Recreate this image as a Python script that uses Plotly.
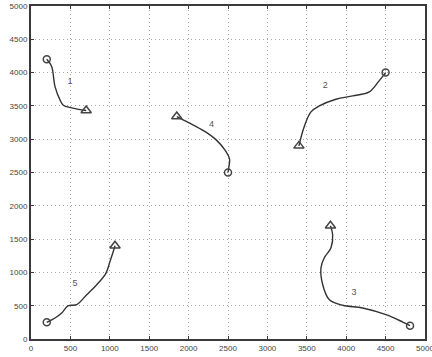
import plotly.graph_objects as go

# Trajectory data (x, y)
path1_x = [200, 262, 305, 368, 410, 516, 700]
path1_y = [4200, 4090, 3790, 3590, 3510, 3470, 3430]
path2_x = [3400, 3468, 3553, 3659, 3870, 4082, 4293, 4420, 4500]
path2_y = [2900, 3190, 3410, 3500, 3600, 3650, 3710, 3880, 4000]
path3_x = [3800, 3828, 3807, 3722, 3680, 3702, 3786, 3956, 4209, 4505, 4717, 4810]
path3_y = [1700, 1570, 1370, 1220, 1070, 815, 590, 506, 466, 365, 255, 200]
path4_x = [1850, 2000, 2200, 2350, 2460, 2520, 2512, 2500]
path4_y = [3340, 3250, 3120, 2990, 2840, 2700, 2590, 2500]
path5_x = [200, 305, 389, 474, 580, 707, 834, 952, 1003, 1045, 1066]
path5_y = [250, 315, 390, 500, 515, 665, 815, 990, 1167, 1317, 1400]

paths = [(path1_x, path1_y), (path2_x, path2_y), (path3_x, path3_y),
         (path4_x, path4_y), (path5_x, path5_y)]
# which end is circle: 1 start, 2 end, 3 end, 4 end, 5 start
circle_at_start = [True, False, False, False, True]

label_text = ["1", "2", "3", "4", "5"]
label_x = [495, 3735, 4100, 2290, 560]
label_y = [3870, 3800, 700, 3210, 830]

ticks = list(range(0, 5001, 500))

fig = go.Figure()
line_col = "#333333"
for (px, py), cs in zip(paths, circle_at_start):
    fig.add_trace(go.Scatter(x=px, y=py, mode="lines", line=dict(color=line_col, width=1.4, shape="spline"),
                             showlegend=False, hoverinfo="skip"))
    cx, cy = (px[0], py[0]) if cs else (px[-1], py[-1])
    tx, ty = (px[-1], py[-1]) if cs else (px[0], py[0])
    fig.add_trace(go.Scatter(x=[cx], y=[cy], mode="markers",
                             marker=dict(symbol="circle-open", size=7, color="#444", line=dict(width=1.5)),
                             showlegend=False))
    fig.add_trace(go.Scatter(x=[tx], y=[ty], mode="markers",
                             marker=dict(symbol="triangle-up-open", size=9, color="#444", line=dict(width=1.5)),
                             showlegend=False))

fig.add_trace(go.Scatter(x=label_x, y=label_y, mode="text", text=label_text,
                         textfont=dict(size=9, color="#555", family="Liberation Sans"),
                         showlegend=False))

axis_common = dict(
    range=[0, 5000], tickvals=ticks, ticktext=[str(t) for t in ticks],
    showgrid=True, gridcolor="#a8a8a8", griddash="1px,3px", gridwidth=1,
    showline=True, linecolor="#3a3a3a", linewidth=2, mirror="ticks",
    ticks="inside", ticklen=3, tickcolor="#3a3a3a",
    tickfont=dict(size=8, color="#444", family="Liberation Sans"),
    ticklabeloverflow="allow", automargin=False,
    zeroline=False, fixedrange=True,
)
fig.update_xaxes(**axis_common)
fig.update_yaxes(**axis_common)

fig.update_layout(
    width=432, height=357,
    margin=dict(l=31, r=7, t=6, b=18),
    plot_bgcolor="white", paper_bgcolor="white",
)
fig.write_html("out.html")
